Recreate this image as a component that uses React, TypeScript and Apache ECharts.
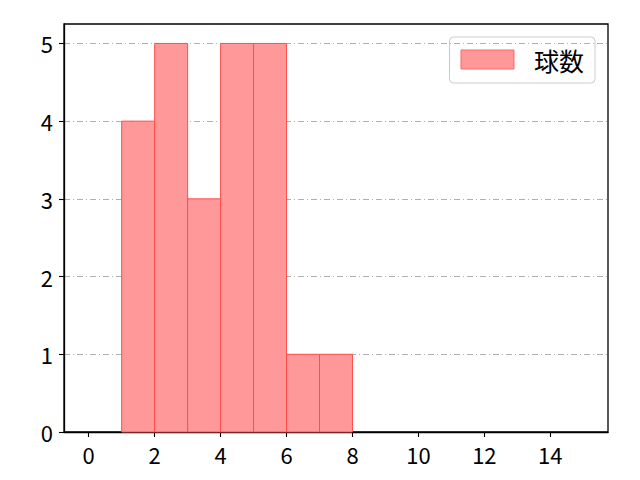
import React, { useEffect, useRef } from "react";
import * as echarts from "echarts";

const binStarts = [1, 2, 3, 4, 5, 6, 7];
const binEnds = [2, 3, 4, 5, 6, 7, 8];
const counts = [4, 5, 3, 5, 5, 1, 1];
const xTicks = [0, 2, 4, 6, 8, 10, 12, 14];
const yTicks = [0, 1, 2, 3, 4, 5];
const seriesName = "球数";

const FONT = "'Noto Sans CJK JP', 'DejaVu Sans', sans-serif";

export default function App() {
  const ref = useRef<HTMLDivElement>(null);
  useEffect(() => {
    if (!ref.current) return;
    const chart = echarts.init(ref.current, undefined, { renderer: "svg" });
    const data = binStarts.map((s, i) => [s, binEnds[i], counts[i]]);
    chart.setOption({
      animation: false,
      textStyle: { fontFamily: FONT },
      grid: {
        left: 64,
        right: 32,
        top: 24,
        bottom: 48,
        show: true,
        borderColor: "#000",
        borderWidth: 1.3,
        backgroundColor: "transparent",
      },
      legend: {
        right: 45,
        top: 37,
        padding: [10, 11, 11, 11],
        borderColor: "#cccccc",
        borderWidth: 1,
        borderRadius: 4,
        itemWidth: 53,
        itemHeight: 19,
        icon: "rect",
        textStyle: { fontSize: 25, color: "#000", fontFamily: FONT, padding: [0, 0, 0, 15] },
        data: [
          {
            name: seriesName,
            itemStyle: { color: "#ff9999", borderColor: "#ff6666", borderWidth: 1 },
          },
        ],
      },
      xAxis: {
        type: "value",
        min: -0.75,
        max: 15.75,
        axisLine: { show: true, onZero: false, lineStyle: { color: "#000", width: 1.3 } },
        axisTick: { show: true, inside: false, length: 5, customValues: xTicks, lineStyle: { color: "#000", width: 1.1 } },
        axisLabel: { customValues: xTicks, fontSize: 22, color: "#000", margin: 11, fontFamily: FONT },
        splitLine: { show: false },
      },
      yAxis: {
        type: "value",
        min: 0,
        max: 5.25,
        axisLine: { show: true, onZero: false, lineStyle: { color: "#000", width: 1.3 } },
        axisTick: { show: true, inside: false, length: 5, customValues: yTicks, lineStyle: { color: "#000", width: 1.1 } },
        axisLabel: { customValues: yTicks, fontSize: 22, color: "#000", margin: 11, fontFamily: FONT },
        splitLine: {
          show: true,
          lineStyle: { color: "#b0b0b0", width: 1, type: [6, 3, 1, 3] },
        },
      },
      series: [
        {
          name: seriesName,
          type: "custom",
          encode: { x: [0, 1], y: 2 },
          data,
          renderItem: (params: any, api: any) => {
            const x0 = api.value(0);
            const x1 = api.value(1);
            const y = api.value(2);
            const p0 = api.coord([x0, y]);
            const p1 = api.coord([x1, 0]);
            return {
              type: "rect",
              shape: { x: p0[0], y: p0[1], width: p1[0] - p0[0], height: p1[1] - p0[1] },
              style: { fill: "#ff9999", stroke: "#ff4d4d", lineWidth: 1 },
            };
          },
        },
      ],
    });
    return () => chart.dispose();
  }, []);
  return (
    <div
      ref={ref}
      style={{ position: "absolute", left: 0, top: 0, width: 640, height: 480 }}
    />
  );
}
